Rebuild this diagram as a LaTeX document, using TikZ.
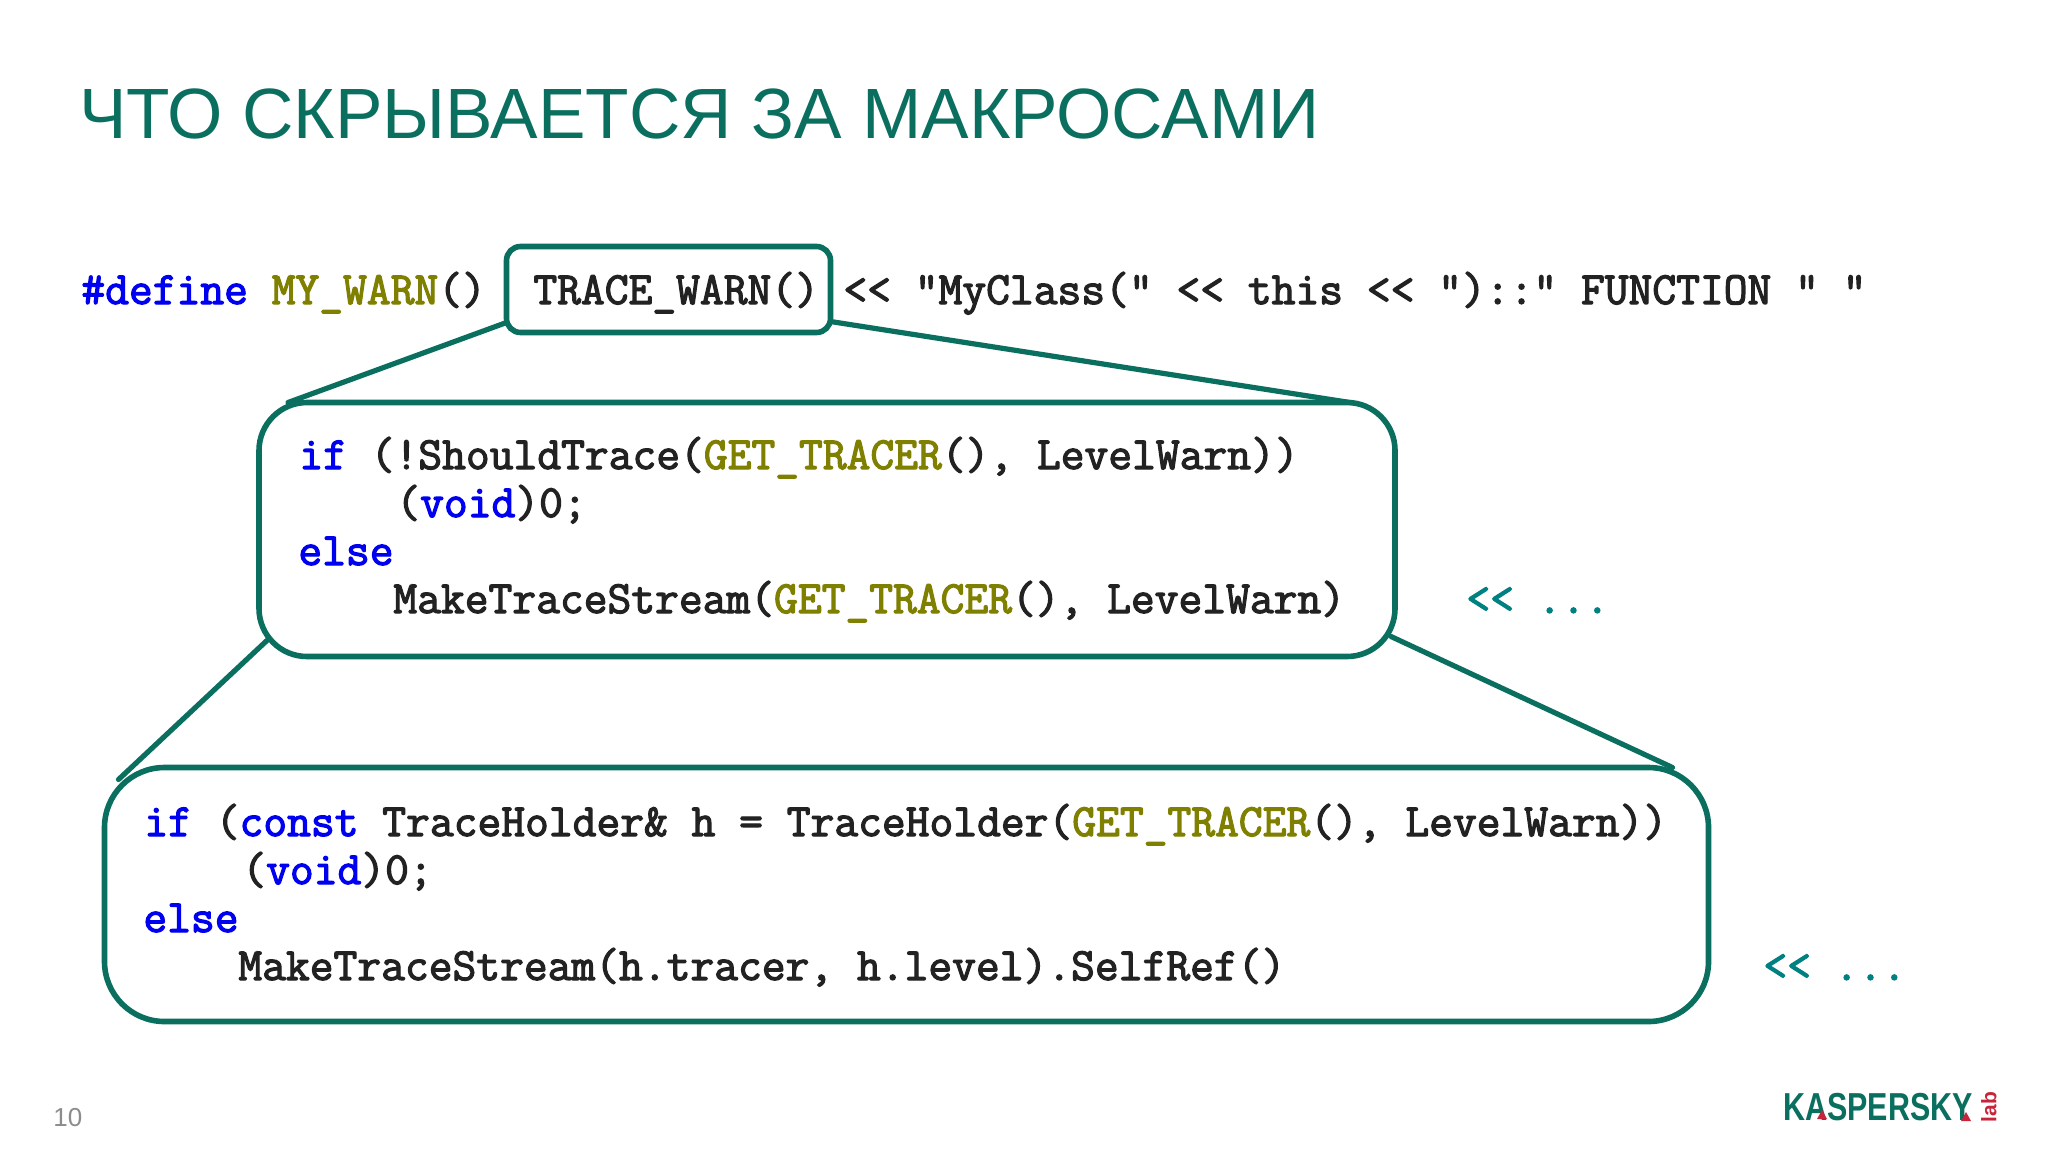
\documentclass[tikz,border=0pt]{standalone}
\usepackage{fontspec}
\setmainfont{Liberation Sans}
\newfontfamily\codefont{Latin Modern Mono}[FakeBold=2.6]
\usetikzlibrary{calc}
\definecolor{kteal}{HTML}{0A6F5E}
\definecolor{kblue}{HTML}{0000F0}
\definecolor{kolive}{HTML}{808000}
\definecolor{kink}{HTML}{222222}
\definecolor{kcyan}{HTML}{008080}
\definecolor{kred}{HTML}{C8243C}
\newcommand{\kw}[1]{\textcolor{kblue}{#1}}
\newcommand{\mc}[1]{\textcolor{kolive}{#1}}
\tikzset{
  x=0.5pt,y=-0.5pt,
  callout/.style={draw=kteal,line width=2.8pt,inner sep=0pt,outer sep=0pt,fill=white},
  link/.style={draw=kteal,line width=2.6pt,line cap=round},
  code/.style={anchor=base west,inner sep=0pt,text=kink,font=\fontsize{23.1}{24}\selectfont\codefont},
  logomark/.style={fill=kred,draw=none},
}
\begin{document}
\begin{tikzpicture}
\useasboundingbox[fill=white] (0,0) rectangle (2048,1152);
\node[anchor=base west,inner sep=0pt,text=kteal,font=\fontsize{35.6}{44}\selectfont] (title) at (79,138) {ЧТО СКРЫВАЕТСЯ ЗА МАКРОСАМИ};
\node[callout,rounded corners=7pt,minimum width=162pt,minimum height=43pt] (b1) at (668.5,289.5) {};
\node[callout,rounded corners=24pt,minimum width=568pt,minimum height=127pt] (b2) at (827,529.5) {};
\node[callout,rounded corners=30pt,minimum width=802pt,minimum height=127pt] (b3) at (906.5,894.5) {};
\draw[link] ($(b1.south west)+(0,-10)$) -- ($(b2.north west)+(29,0)$);
\draw[link] ($(b1.south east)+(0,-11)$) -- ($(b2.north east)+(-45,0)$);
\draw[link] ($(b2.south west)+(9,-17)$) -- ($(b3.north west)+(14,12)$);
\draw[link] ($(b2.south east)+(-4,-20)$) -- ($(b3.north east)+(-36,0)$);

\node[code] (l0) at (81,304) {\kw{\#define} \mc{MY\_WARN}()};
\node[code] (l1) at (533,304) {TRACE\_WARN()};
\node[code] (l2) at (843,304) {<{}< "MyClass(" <{}< this <{}< ")::" FUNCTION " "};

\node[code] (a1) at (299,469) {\kw{if} (!ShouldTrace(\mc{GET\_TRACER}(), LevelWarn))};
\node[code] (a2) at (396,517) {(\kw{void})0;};
\node[code] (a3) at (298,565) {\kw{else}};
\node[code] (a4) at (393,613) {MakeTraceStream(\mc{GET\_TRACER}(), LevelWarn)};
\node[code,text=kcyan] (a5) at (1466,613) {<{}< ...};

\node[code] (c1) at (144,836) {\kw{if} (\kw{const} TraceHolder\& h = TraceHolder(\mc{GET\_TRACER}(), LevelWarn))};
\node[code] (c2) at (242,884) {(\kw{void})0;};
\node[code] (c3) at (143,932) {\kw{else}};
\node[code] (c4) at (238,980) {MakeTraceStream(h.tracer, h.level).SelfRef()};
\node[code,text=kcyan] (c5) at (1763,980) {<{}< ...};

\node[anchor=base west,inner sep=0pt,text=black!45,font=\fontsize{13}{15}\selectfont] (num) at (53,1126) {10};
\node[anchor=base west,inner sep=0pt,text=kteal,xscale=0.78,transform shape,font=\fontsize{19.5}{22}\selectfont\bfseries] (logo) at (1783,1120) {KASPERSKY};
\fill[logomark] (1822,1110) -- (1827,1119) -- (1817,1119) -- cycle;
\fill[logomark] (1966,1112) -- (1971,1121) -- (1961,1121) -- cycle;
\node[anchor=south,rotate=90,inner sep=0pt,text=kred,font=\fontsize{10.5}{11}\selectfont\bfseries] (lab) at (1997,1107) {lab};
\end{tikzpicture}
\end{document}
